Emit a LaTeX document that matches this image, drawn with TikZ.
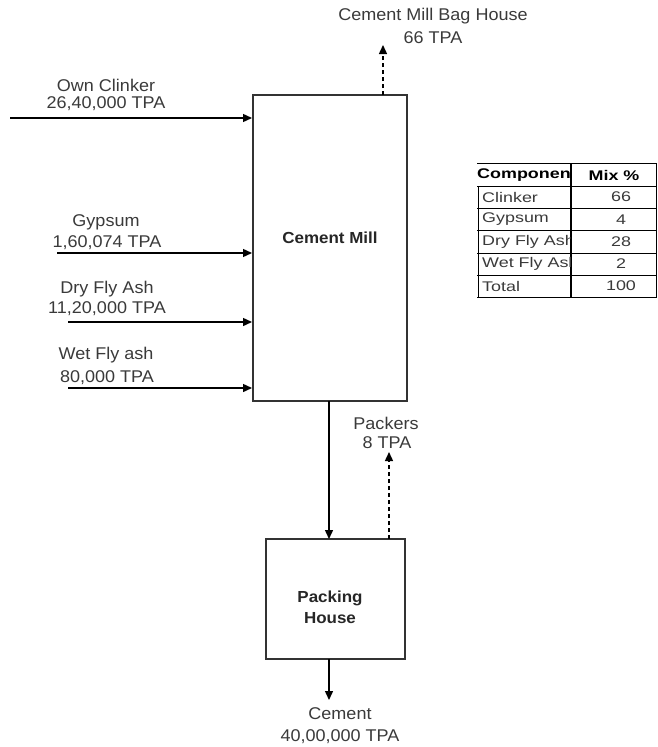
\documentclass[tikz,border=0pt]{standalone}
\usepackage{fontspec}
\setmainfont{Liberation Sans}[FakeStretch=1.06]
\newfontfamily\tablefont{Liberation Sans}[FakeStretch=1.28]
\usetikzlibrary{arrows.meta}
\definecolor{txt}{HTML}{3A3A3A}
\tikzset{
  lbl/.style={text=txt,font=\fontsize{17}{20}\selectfont,align=center,inner sep=0pt},
  boxlbl/.style={text=black!85,font=\fontsize{16}{21}\selectfont\bfseries,align=center,inner sep=0pt},
  flow/.style={line width=1.4pt,-{Triangle[length=9pt,width=8pt]}},
  dflow/.style={line width=1.4pt,dash pattern=on 4pt off 3pt,-{Triangle[length=9pt,width=8pt]}},
  proc/.style={draw=black!80,line width=1.1pt,fill=none},
  tcell/.style={text=txt,font=\tablefont\fontsize{14}{16}\selectfont,inner sep=0pt},
  thead/.style={text=black,font=\tablefont\fontsize{14}{16}\selectfont\bfseries,inner sep=0pt},
}
\begin{document}
\begin{tikzpicture}[x=1pt,y=-1pt]
\useasboundingbox (0,0) rectangle (657,747);
% boxes
\draw[proc] (253,95) rectangle (407,401);
\node[boxlbl] (mill) at (330,238) {Cement Mill};
\coordinate (millL1) at (252,118);
\coordinate (millL2) at (252,253);
\coordinate (millL3) at (252,322);
\coordinate (millL4) at (252,388);
\coordinate (millT) at (383,95);
\coordinate (millB) at (329,401);
\draw[proc] (266,539) rectangle (405,659);
\node[boxlbl] (pack) at (330,607) {Packing\\House};
\coordinate (packT) at (329,539);
\coordinate (packT2) at (389,539);
\coordinate (packB) at (329,659);
% sources
\coordinate (s1) at (10,118);
\coordinate (s2) at (57,253);
\coordinate (s3) at (68,322);
\coordinate (s4) at (68,388);
\coordinate (bag) at (383,45);
\coordinate (pk) at (389,452);
\coordinate (out) at (329,700);
% input flows
\draw[flow] (s1) -- (millL1);
\draw[flow] (s2) -- (millL2);
\draw[flow] (s3) -- (millL3);
\draw[flow] (s4) -- (millL4);
\draw[dflow] (millT) -- (bag);
\draw[flow] (millB) -- (packT);
\draw[dflow] (packT2) -- (pk);
\draw[flow] (packB) -- (out);
% labels
\node[lbl] (l1a) at (106,85) {Own Clinker};
\node[lbl] (l1b) at (106,104) {26,40,000 TPA};
\node[lbl] (l2a) at (106,222) {Gypsum};
\node[lbl] (l2b) at (107,243) {1,60,074 TPA};
\node[lbl] (l3a) at (107,289) {Dry Fly Ash};
\node[lbl] (l3b) at (107,309) {11,20,000 TPA};
\node[lbl] (l4a) at (106,355) {Wet Fly ash};
\node[lbl] (l4b) at (107,378) {80,000 TPA};
\node[lbl] (bagA) at (433,16) {Cement Mill Bag House};
\node[lbl] (bagB) at (433,38) {66 TPA};
\node[lbl] (pkA) at (386,423) {Packers};
\node[lbl] (pkB) at (387,443) {8 TPA};
\node[lbl] (outA) at (340,714) {Cement};
\node[lbl] (outB) at (340,737) {40,00,000 TPA};
% table
\draw[line width=1.4pt] (477,163.5) -- (657,163.5);
\draw[line width=0.9pt] (477,186) -- (657,186);
\draw[line width=0.9pt] (477,208) -- (657,208);
\draw[line width=0.9pt] (477,230.5) -- (657,230.5);
\draw[line width=0.9pt] (477,253) -- (657,253);
\draw[line width=0.9pt] (477,275) -- (657,275);
\draw[line width=0.9pt] (477,297) -- (657,297);
\draw[line width=0.9pt] (478,186) -- (478,297);
\draw[line width=1.2pt] (571,163) -- (571,297);
\draw[line width=0.9pt] (656,163) -- (656,297);
\begin{scope}
\clip (476,164) rectangle (570,297);
\node[thead,anchor=west] (h1) at (477,175) {Componen};
\node[tcell,anchor=west] (c1) at (482,197) {Clinker};
\node[tcell,anchor=west] (c2) at (482,219.5) {Gypsum};
\node[tcell,anchor=west] (c3) at (482,242) {Dry Fly Ash};
\node[tcell,anchor=west] (c4) at (482,264) {Wet Fly Ash};
\node[tcell,anchor=west] (c5) at (482,286) {Total};
\end{scope}
\node[thead] (h2) at (614,175) {Mix \%};
\node[tcell] (v1) at (621,197) {66};
\node[tcell] (v2) at (621,219.5) {4};
\node[tcell] (v3) at (621,242) {28};
\node[tcell] (v4) at (621,264) {2};
\node[tcell] (v5) at (621,286) {100};
\end{tikzpicture}
\end{document}
